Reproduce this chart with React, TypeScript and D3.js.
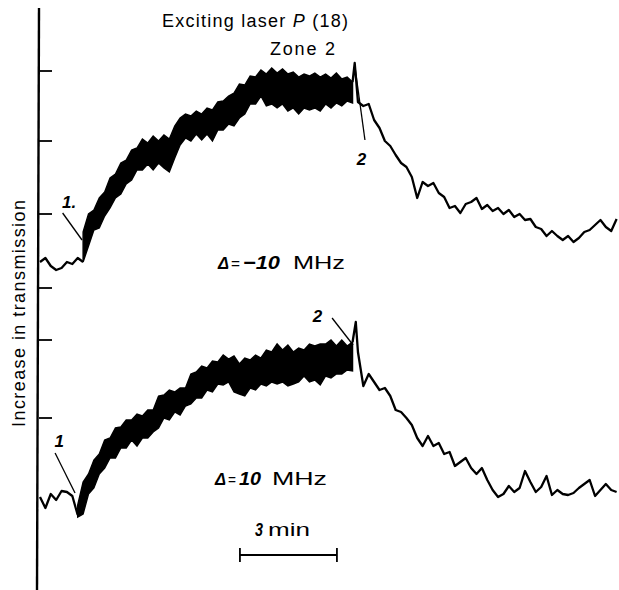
import React from 'react';
import * as d3 from 'd3';

// Sampling: one sample every 10 s of recording time
const STEP_S = 10;
const BAND_START_UPPER = 8;
const BAND_START_LOWER = 7;
const DECAY_START = 59;

// Upper record (Δ = −10 MHz), arbitrary transmission units
const upperBaseline = [338, 342, 334, 330, 332, 338, 336, 342, 338];
const upperBandTop = [368, 386, 390, 402, 408, 422, 426, 437, 440, 450, 452, 461, 457, 464, 459, 465, 461, 474, 482, 486, 484, 489, 486, 492, 490, 498, 499, 504, 507, 516, 515, 524, 523, 530, 526, 532, 527, 531, 526, 528, 523, 526, 524, 527, 523, 526, 522, 527, 521, 523, 518];
const upperBandBottom = [338, 354, 370, 372, 384, 392, 402, 406, 416, 420, 430, 430, 436, 430, 437, 432, 428, 442, 455, 462, 459, 466, 460, 466, 459, 470, 470, 476, 474, 482, 486, 496, 496, 504, 494, 496, 492, 496, 489, 492, 486, 492, 490, 492, 489, 496, 492, 497, 494, 499, 497];
const upperSpike = { t: 584, v: 537 };
const upperDecay = [498, 494, 496, 480, 472, 459, 454, 445, 437, 433, 423, 402, 418, 414, 417, 407, 403, 392, 394, 387, 396, 398, 402, 391, 395, 389, 392, 386, 390, 383, 386, 380, 381, 373, 371, 364, 369, 364, 360, 364, 358, 362, 368, 370, 375, 380, 373, 369, 381];

// Lower record (Δ = 10 MHz)
const lowerBaseline = [103, 92, 106, 100, 109, 108, 104, 85];
const lowerBandTop = [95, 118, 126, 140, 146, 160, 162, 172, 173, 180, 180, 186, 184, 190, 190, 204, 205, 210, 208, 212, 212, 226, 228, 234, 232, 239, 238, 245, 241, 244, 236, 242, 240, 245, 242, 250, 248, 256, 250, 255, 248, 252, 250, 256, 254, 256, 256, 260, 254, 260, 254, 258];
const lowerBandBottom = [83, 86, 106, 112, 126, 132, 142, 142, 152, 152, 160, 154, 162, 162, 168, 172, 182, 180, 188, 185, 194, 196, 202, 202, 210, 208, 216, 215, 218, 208, 206, 204, 212, 210, 216, 214, 218, 216, 218, 214, 216, 218, 224, 218, 220, 215, 224, 222, 226, 226, 230, 229];
const lowerSpike = { t: 586, v: 278 };
const lowerDecay = [248, 214, 226, 218, 210, 212, 204, 190, 188, 182, 175, 162, 154, 164, 154, 157, 146, 148, 134, 138, 142, 132, 126, 132, 120, 110, 103, 106, 114, 108, 112, 129, 118, 108, 113, 124, 105, 110, 106, 105, 107, 112, 116, 120, 104, 110, 116, 110, 108];

// Axis ticks (transmission units)
const tickValues = [529, 459, 386, 312, 260, 182];

// Annotations: label position (t in s, v) and leader lines [t1, v1, t2, v2]
const marker1Upper = { label: '1.', t: 41, v: 392, leader: [42, 387, 78, 360] };
const marker2Upper = { label: '2', t: 588, v: 435, leader: [584, 535, 603, 460] };
const marker1Lower = { label: '1', t: 27, v: 153, leader: [28, 147, 65, 107] };
const marker2Lower = { label: '2', t: 506, v: 278, leader: [542, 282, 581, 255] };

const scaleBar = { t0: 371, t1: 551, v: 45, label: 'min', value: '3' };

const W = 619;
const H = 590;
const FONT = "'Liberation Sans', Arial, Helvetica, sans-serif";

type P = { t: number; v: number };

const seq = (arr: number[], start: number): P[] => arr.map((v, i) => ({ t: (start + i) * STEP_S, v }));

export default function App() {
  const x = d3.scaleLinear().domain([0, 1080]).range([40, 40 + 1080 * (97 / 180)]);
  const y = d3.scaleLinear().domain([10, 590]).range([590, 10]);

  const line = d3.line<P>().x(d => x(d.t)).y(d => y(d.v));
  const bandArea = (top: number[], bot: number[], start: number) => {
    const pts = top.map((v, i) => ({ t: (start + i) * STEP_S, top: v, bot: bot[i] }));
    return d3.area<{ t: number; top: number; bot: number }>()
      .x(d => x(d.t)).y0(d => y(d.bot)).y1(d => y(d.top))(pts) as string;
  };

  const upperBase = seq(upperBaseline, 0);
  const upperTail: P[] = [
    { t: (BAND_START_UPPER + upperBandTop.length - 1) * STEP_S, v: upperBandTop[upperBandTop.length - 1] },
    upperSpike,
    ...seq(upperDecay, DECAY_START),
  ];
  const lowerBase = seq(lowerBaseline, 0);
  const lowerTail: P[] = [
    { t: (BAND_START_LOWER + lowerBandTop.length - 1) * STEP_S, v: lowerBandTop[lowerBandTop.length - 1] },
    lowerSpike,
    ...seq(lowerDecay, DECAY_START),
  ];

  const axisX = x(0) - 1;
  const markers = [marker1Upper, marker2Upper, marker1Lower, marker2Lower];
  const numStyle = { fontStyle: 'italic' as const, fontWeight: 'bold' as const };
  const wide = { lengthAdjust: 'spacingAndGlyphs' as const };

  return (
    <svg width={W} height={H} style={{ position: 'absolute', left: 0, top: 0, background: '#fff' }}
      fontFamily={FONT}>
      <rect x={0} y={0} width={W} height={H} fill="#fff" />
      {/* vertical axis */}
      <line x1={axisX} y1={8} x2={axisX - 2} y2={H} stroke="#000" strokeWidth={2.4} />
      {tickValues.map((tv, i) => (
        <line key={i} x1={axisX} x2={axisX + 13} y1={y(tv)} y2={y(tv)} stroke="#000" strokeWidth={1.8} />
      ))}
      <text transform={`translate(25,313.5) rotate(-90)`} textAnchor="middle" fontSize={18}
        textLength={227} lengthAdjust="spacing" fill="#000">Increase in transmission</text>

      {/* title */}
      <text x={162} y={27} fontSize={18} textLength={186} lengthAdjust="spacing" fill="#000">
        Exciting laser <tspan fontStyle="italic">P</tspan> (18)
      </text>
      <text x={270} y={55} fontSize={18} textLength={65} lengthAdjust="spacing" fill="#000">Zone 2</text>

      {/* upper record */}
      <path d={line(upperBase) as string} fill="none" stroke="#000" strokeWidth={2.3} strokeLinejoin="round" />
      <path d={bandArea(upperBandTop, upperBandBottom, BAND_START_UPPER)} fill="#000" stroke="#000" strokeWidth={1.4} />
      <path d={line(upperTail) as string} fill="none" stroke="#000" strokeWidth={2.3} strokeLinejoin="round" />

      {/* lower record */}
      <path d={line(lowerBase) as string} fill="none" stroke="#000" strokeWidth={2.3} strokeLinejoin="round" />
      <path d={bandArea(lowerBandTop, lowerBandBottom, BAND_START_LOWER)} fill="#000" stroke="#000" strokeWidth={1.4} />
      <path d={line(lowerTail) as string} fill="none" stroke="#000" strokeWidth={2.3} strokeLinejoin="round" />

      {/* markers */}
      {markers.map((m, i) => (
        <g key={i}>
          <line x1={x(m.leader[0])} y1={y(m.leader[1])} x2={x(m.leader[2])} y2={y(m.leader[3])}
            stroke="#000" strokeWidth={1.3} />
          <text x={x(m.t)} y={y(m.v)} fontSize={17} {...numStyle} fill="#000">{m.label}</text>
        </g>
      ))}

      {/* detuning labels */}
      <g fontSize={18} fill="#000">
        <text x={218} y={269} {...numStyle} fontSize={16} textLength={11} {...wide}>Δ</text>
        <text x={231} y={269} fontSize={17} textLength={9} {...wide}>=</text>
        <text x={243} y={269} {...numStyle} textLength={37} {...wide} fontSize={19}>−10</text>
        <text x={293} y={269} fontSize={18} textLength={52} {...wide}>MHz</text>

        <text x={215} y={485} {...numStyle} fontSize={16} textLength={11} {...wide}>Δ</text>
        <text x={228} y={485} fontSize={17} textLength={8} {...wide}>=</text>
        <text x={239} y={485} {...numStyle} textLength={22} {...wide} fontSize={19}>10</text>
        <text x={272} y={485} fontSize={18} textLength={55} {...wide}>MHz</text>
      </g>

      {/* scale bar */}
      <text x={255} y={536} fontSize={18} {...numStyle} textLength={8} {...wide} fill="#000">{scaleBar.value}</text>
      <text x={268} y={536} fontSize={18} textLength={42} {...wide} fill="#000">{scaleBar.label}</text>
      <line x1={x(scaleBar.t0)} x2={x(scaleBar.t1)} y1={y(scaleBar.v)} y2={y(scaleBar.v)} stroke="#000" strokeWidth={2} />
      <line x1={x(scaleBar.t0)} x2={x(scaleBar.t0)} y1={y(scaleBar.v) - 7} y2={y(scaleBar.v) + 7} stroke="#000" strokeWidth={1.8} />
      <line x1={x(scaleBar.t1)} x2={x(scaleBar.t1)} y1={y(scaleBar.v) - 7} y2={y(scaleBar.v) + 7} stroke="#000" strokeWidth={1.8} />
    </svg>
  );
}
